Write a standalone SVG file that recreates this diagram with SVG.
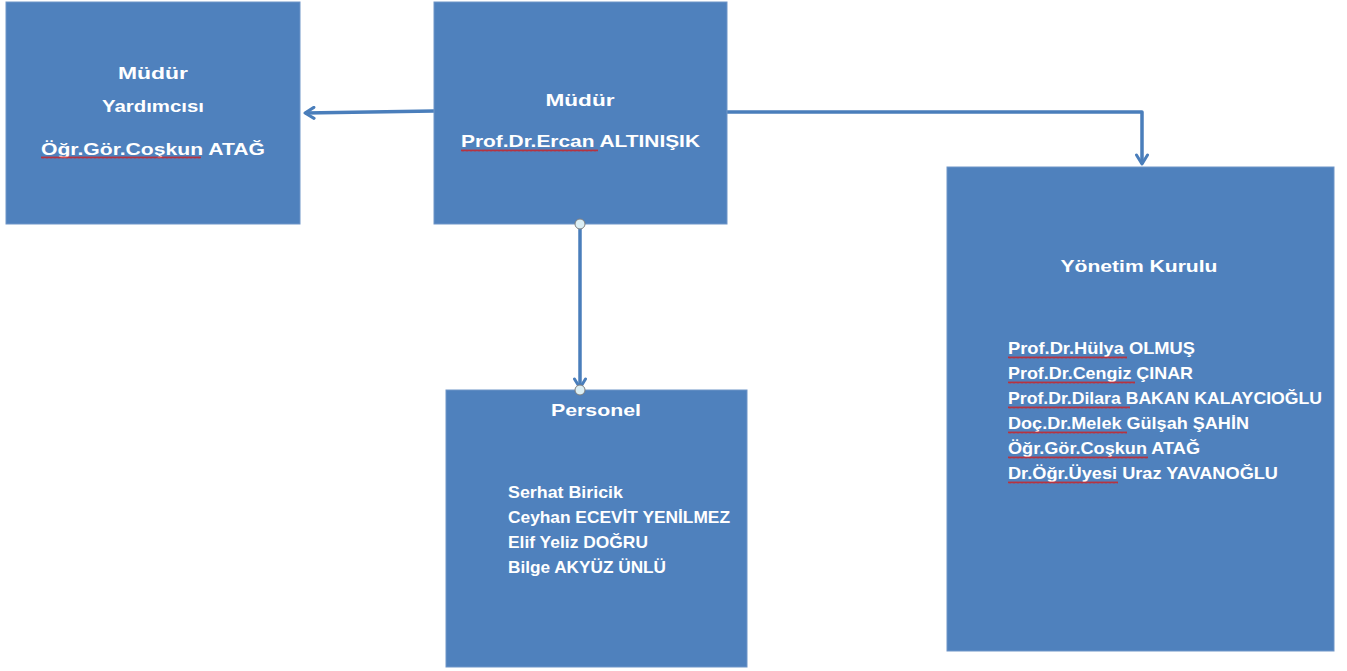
<svg xmlns="http://www.w3.org/2000/svg" width="1347" height="671" viewBox="0 0 1347 671">
<style>
.box{fill:#4f81bd;stroke:#6f95c8;stroke-width:1}
.t{font-family:"Liberation Sans",Arial,sans-serif;font-weight:bold;font-size:17px;fill:#ffffff}
.c{text-anchor:middle}
.conn{fill:none;stroke:#4a7ebb;stroke-width:3.5;stroke-linejoin:round}
.dot{fill:#dbeef4;stroke:#7f7f7f;stroke-width:1}
.sq{fill:url(#wave)}
</style>
<defs>
<marker id="arr" viewBox="0 0 14 14" refX="11" refY="7" markerWidth="14" markerHeight="14" markerUnits="userSpaceOnUse" orient="auto">
<path d="M2,1.5 L11,7 L2,12.5" fill="none" stroke="#4a7ebb" stroke-width="3" stroke-linecap="round" stroke-linejoin="round"/>
</marker>
<pattern id="wave" width="4" height="3" patternUnits="userSpaceOnUse">
<path d="M0,2.5 L1,0.5 L2,2.5 L3,0.5 L4,2.5" fill="none" stroke="#d02020" stroke-width="0.8"/>
</pattern>
</defs>
<rect width="1347" height="671" fill="#ffffff"/>
<g id="connectors">
<line class="conn" x1="434" y1="111" x2="305" y2="113" marker-end="url(#arr)"/>
<polyline class="conn" points="727,112 1142,112 1142,164" marker-end="url(#arr)"/>
<line class="conn" x1="580" y1="224" x2="580" y2="388" marker-end="url(#arr)"/>
</g>
<g id="mudur-yardimcisi">
<rect class="box" x="6" y="2" width="294" height="222"/>
<text class="t c" x="153" y="79" textLength="70" lengthAdjust="spacingAndGlyphs">Müdür</text>
<text class="t c" x="153" y="112" textLength="102" lengthAdjust="spacingAndGlyphs">Yardımcısı</text>
<text class="t" x="41" y="155" textLength="224" lengthAdjust="spacingAndGlyphs">Öğr.Gör.Coşkun ATAĞ</text>
<rect class="sq" transform="translate(41,156)" width="160" height="3"/>
</g>
<g id="mudur">
<rect class="box" x="434" y="2" width="293" height="222"/>
<text class="t c" x="580" y="106" textLength="69" lengthAdjust="spacingAndGlyphs">Müdür</text>
<text class="t" x="461" y="147" textLength="239" lengthAdjust="spacingAndGlyphs">Prof.Dr.Ercan ALTINIŞIK</text>
<rect class="sq" transform="translate(461,149)" width="137" height="3"/>
</g>
<g id="personel">
<rect class="box" x="446" y="390" width="301" height="277"/>
<text class="t c" x="596" y="416" textLength="90" lengthAdjust="spacingAndGlyphs">Personel</text>
<text class="t" x="508" y="498" textLength="115" lengthAdjust="spacingAndGlyphs">Serhat Biricik</text>
<text class="t" x="508" y="523" textLength="222" lengthAdjust="spacingAndGlyphs">Ceyhan ECEVİT YENİLMEZ</text>
<text class="t" x="508" y="548" textLength="140" lengthAdjust="spacingAndGlyphs">Elif Yeliz  DOĞRU</text>
<text class="t" x="508" y="573" textLength="158" lengthAdjust="spacingAndGlyphs">Bilge AKYÜZ ÜNLÜ</text>
</g>
<g id="yonetim-kurulu">
<rect class="box" x="947" y="167" width="387" height="484"/>
<text class="t c" x="1139" y="272" textLength="157" lengthAdjust="spacingAndGlyphs">Yönetim Kurulu</text>
<text class="t" x="1008" y="354" textLength="187" lengthAdjust="spacingAndGlyphs">Prof.Dr.Hülya OLMUŞ</text>
<text class="t" x="1008" y="379" textLength="185" lengthAdjust="spacingAndGlyphs">Prof.Dr.Cengiz ÇINAR</text>
<text class="t" x="1008" y="404" textLength="314" lengthAdjust="spacingAndGlyphs">Prof.Dr.Dilara BAKAN KALAYCIOĞLU</text>
<text class="t" x="1008" y="429" textLength="241" lengthAdjust="spacingAndGlyphs">Doç.Dr.Melek Gülşah ŞAHİN</text>
<text class="t" x="1008" y="454" textLength="192" lengthAdjust="spacingAndGlyphs">Öğr.Gör.Coşkun ATAĞ</text>
<text class="t" x="1008" y="479" textLength="270" lengthAdjust="spacingAndGlyphs">Dr.Öğr.Üyesi Uraz YAVANOĞLU</text>
<rect class="sq" transform="translate(1008,356)" width="119" height="3"/>
<rect class="sq" transform="translate(1008,381)" width="127" height="3"/>
<rect class="sq" transform="translate(1008,406)" width="122" height="3"/>
<rect class="sq" transform="translate(1008,431)" width="119" height="3"/>
<rect class="sq" transform="translate(1008,456)" width="140" height="3"/>
<rect class="sq" transform="translate(1008,481)" width="110" height="3"/>
</g>
<g id="connector-dots">
<circle class="dot" cx="580" cy="224" r="5"/>
<circle class="dot" cx="580" cy="390" r="5"/>
</g>
</svg>
